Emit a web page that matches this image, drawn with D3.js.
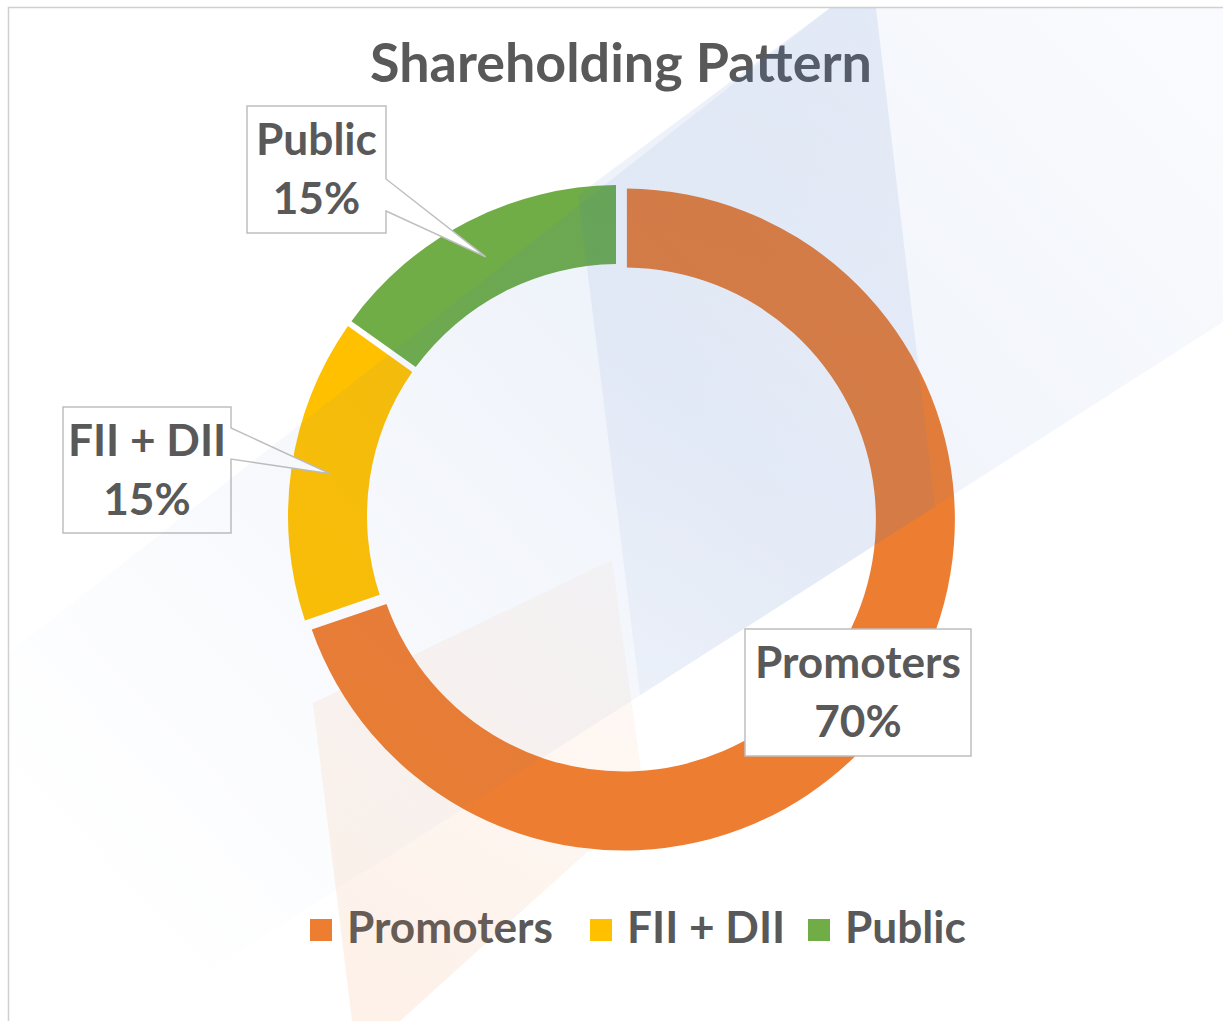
<!DOCTYPE html>
<html><head><meta charset="utf-8">
<script src="https://cdn.jsdelivr.net/npm/d3@7"></script>
<style>body{margin:0;background:#fff;} svg{display:block}</style>
</head><body>
<svg id="chart" width="1223" height="1021"></svg>
<script>
// ---- data ----
const categories = ["Promoters", "FII + DII", "Public"];
const values = [70, 15, 15];
const colors = ["#ED7D31", "#FFC000", "#70AD47"];
const chartTitle = "Shareholding Pattern";

// ---- layout ----
const W = 1223, H = 1021;
const cx = 619, cy = 516, R = 331, r = 252;
const FONT = "Lato, 'Open Sans', sans-serif";
const TEXT = "#595959";
const svg = d3.select("#chart");
const defs = svg.append("defs");

const data = categories.map((c, i) => ({ name: c, value: values[i], color: colors[i] }));
const total = d3.sum(values);
const explode = { "Promoters": 6 };

// frame
svg.append("rect").attr("x", 8.5).attr("y", 7.5).attr("width", 1240).attr("height", 1040)
  .attr("fill", "#fff").attr("stroke", "#D0D0D0").attr("stroke-width", 1.5);

const pie = d3.pie().sort(null).value(d => d.value).padAngle(6 / Math.sqrt(R * R + r * r));
const arc = d3.arc().innerRadius(r).outerRadius(R);
const midArc = d3.arc().innerRadius((R + r) / 2).outerRadius((R + r) / 2);
const arcs = pie(data);

function offset(d) {
  const e = explode[d.data.name] || 0;
  const a = (d.startAngle + d.endAngle) / 2;
  return [e * Math.sin(a), -e * Math.cos(a)];
}

const g = svg.append("g").attr("transform", `translate(${cx},${cy})`);
g.selectAll("path.slice").data(arcs).join("path")
  .attr("class", "slice")
  .attr("d", arc)
  .attr("fill", d => d.data.color)
  .attr("transform", d => `translate(${offset(d)})`);

// ---- data label callouts ----
const boxes = {
  "Promoters": { x0: 745, y0: 629, x1: 971, y1: 756, callout: null },
  "FII + DII": { x0: 63, y0: 407, x1: 231, y1: 533, callout: [428, 459] },
  "Public": { x0: 247, y0: 106, x1: 386, y1: 233, callout: [179, 211] }
};

const labelG = svg.append("g");
const labelFont = 38;
arcs.forEach(d => {
  const b = boxes[d.data.name];
  const o = offset(d);
  const c = midArc.centroid(d);
  const tip = [cx + c[0] + o[0], cy + c[1] + o[1]];
  let p;
  if (b.callout) {
    p = `M${b.x0},${b.y0}H${b.x1}V${b.callout[0]}L${tip[0]},${tip[1]}L${b.x1},${b.callout[1]}V${b.y1}H${b.x0}Z`;
  } else {
    p = `M${b.x0},${b.y0}H${b.x1}V${b.y1}H${b.x0}Z`;
  }
  labelG.append("path").attr("d", p).attr("fill", "#fff")
    .attr("stroke", "#BFBFBF").attr("stroke-width", 1.5).attr("stroke-linejoin", "miter");
  const mx = (b.x0 + b.x1) / 2;
  labelG.append("text").attr("class", "lbl").attr("x", mx).attr("y", b.y0 + 49)
    .attr("text-anchor", "middle").text(d.data.name);
  labelG.append("text").attr("class", "lbl").attr("x", mx).attr("y", b.y0 + 108)
    .attr("text-anchor", "middle").text(Math.round(d.data.value / total * 100) + "%");
});

// ---- legend ----
const legendX = [310, 590, 808];
const legG = svg.append("g");
const legItems = legG.selectAll("g").data(data).join("g");
legItems.append("rect").attr("width", 22).attr("height", 22).attr("y", 919)
  .attr("x", (d, i) => legendX[i]).attr("fill", d => d.color);
legItems.append("text").attr("class", "lbl").attr("y", 943)
  .attr("x", (d, i) => legendX[i] + 37).text(d => d.name);

// ---- title ----
const titleEl = svg.append("text").attr("x", 621).attr("y", 82).attr("text-anchor", "middle")
  .attr("font-family", FONT).attr("font-weight", 700).attr("fill", TEXT)
  .attr("font-size", 48).text(chartTitle);

// fit fonts (Calibri-like metrics)
svg.selectAll("text.lbl").attr("font-family", FONT).attr("font-weight", 700).attr("fill", TEXT).attr("font-size", labelFont);
{
  const probe = legItems.filter(d => d.name === "Promoters").select("text").node();
  const w = probe.getComputedTextLength();
  const fs = labelFont * 206 / w;
  svg.selectAll("text.lbl").attr("font-size", fs);
  const tw = titleEl.node().getComputedTextLength();
  titleEl.attr("font-size", 48 * 502 / tw);
}

// ---- decorative translucent style shapes (on top) ----
function grad(id, x1, y1, x2, y2, color, stops) {
  const lg = defs.append("linearGradient").attr("id", id).attr("gradientUnits", "userSpaceOnUse")
    .attr("x1", x1).attr("y1", y1).attr("x2", x2).attr("y2", y2);
  stops.forEach(s => lg.append("stop").attr("offset", s[0]).attr("stop-color", color).attr("stop-opacity", s[1]));
}
grad("gL", 1150, 0, 150, 950, "#4472C4", [[0, 0.03], [0.45, 0.085], [0.85, 0.02], [1, 0]]);
grad("gB", 850, 0, 640, 700, "#4472C4", [[0, 0.11], [1, 0.05]]);
grad("gP", 360, 1021, 620, 580, "#ED7D31", [[0, 0.11], [1, 0.04]]);

defs.append("clipPath").attr("id", "clipArea").append("rect")
  .attr("x", 9).attr("y", 8).attr("width", W).attr("height", H);

const deco = svg.append("g").attr("clip-path", "url(#clipArea)").style("pointer-events", "none");
const line = d3.line();
deco.append("path").attr("fill", "url(#gL)")
  .attr("d", line([[830, 8], [1223, 8], [1223, 322], [180, 990], [0, 990], [0, 660]]) + "Z");
deco.append("path").attr("fill", "url(#gB)")
  .attr("d", line([[830, 8], [876, 8], [935, 507], [640, 695], [578, 195]]) + "Z");
deco.append("path").attr("fill", "url(#gP)")
  .attr("d", line([[313, 703], [612, 560], [645, 800], [400, 1021], [352, 1021]]) + "Z");
</script>
</body></html>
